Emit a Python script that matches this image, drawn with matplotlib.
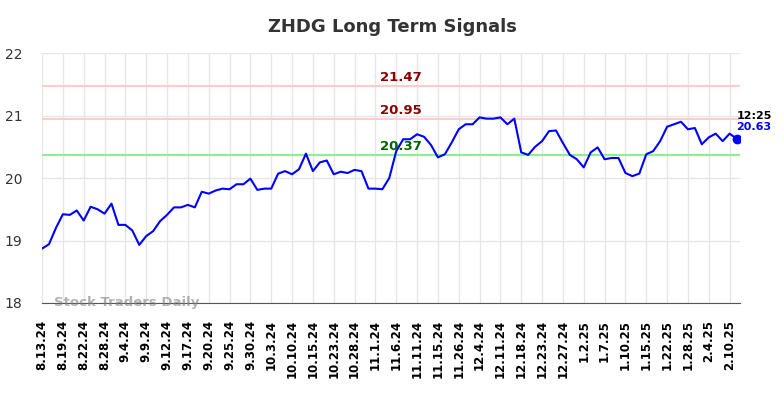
import matplotlib
matplotlib.use('Agg')
import matplotlib.pyplot as plt

title = 'ZHDG Long Term Signals'
tick_labels = ['8.13.24', '8.19.24', '8.22.24', '8.28.24', '9.4.24', '9.9.24', '9.12.24', '9.17.24',
               '9.20.24', '9.25.24', '9.30.24', '10.3.24', '10.10.24', '10.15.24', '10.23.24', '10.28.24',
               '11.1.24', '11.6.24', '11.11.24', '11.15.24', '11.26.24', '12.4.24', '12.11.24', '12.18.24',
               '12.23.24', '12.27.24', '1.2.25', '1.7.25', '1.10.25', '1.15.25', '1.22.25', '1.28.25',
               '2.4.25', '2.10.25']
prices = [18.87, 18.94, 19.20, 19.42, 19.41, 19.48, 19.32, 19.54, 19.50, 19.43,
          19.59, 19.25, 19.25, 19.16, 18.93, 19.07, 19.15, 19.31, 19.41, 19.53,
          19.53, 19.57, 19.53, 19.78, 19.75, 19.80, 19.83, 19.82, 19.90, 19.90,
          19.99, 19.81, 19.83, 19.83, 20.07, 20.11, 20.06, 20.14, 20.39, 20.11,
          20.25, 20.28, 20.06, 20.10, 20.08, 20.13, 20.11, 19.83, 19.83, 19.82,
          20.00, 20.43, 20.62, 20.62, 20.70, 20.66, 20.53, 20.33, 20.38, 20.57,
          20.78, 20.86, 20.86, 20.97, 20.95, 20.95, 20.97, 20.86, 20.95, 20.41,
          20.37, 20.50, 20.59, 20.75, 20.76, 20.56, 20.37, 20.30, 20.17, 20.41,
          20.49, 20.30, 20.32, 20.32, 20.08, 20.03, 20.07, 20.38, 20.43, 20.59,
          20.82, 20.86, 20.90, 20.78, 20.80, 20.54, 20.65, 20.71, 20.59, 20.71,
          20.63]
upper_levels = [21.47, 20.95]
lower_level = 20.37
last_time = '12:25'

fig = plt.figure(figsize=(7.84, 3.98), dpi=100)
ax = fig.add_axes([0.0536, 0.2387, 0.8903, 0.6281])

x = list(range(len(prices)))
ax.plot(x, prices, color='blue', lw=1.5, zorder=3)
ax.plot(x[-1], prices[-1], 'o', color='blue', ms=6, zorder=4)

# signal levels
for lvl in upper_levels:
    ax.axhline(lvl, color='#ffcccc', lw=1.5, zorder=2)
    ax.text(48.7, lvl + 0.03, f'{lvl:.2f}', color='#8b0000', fontsize=9.5,
            fontweight='bold', ha='left', va='bottom')
ax.axhline(lower_level, color='#90ee90', lw=1.5, zorder=2)
ax.text(48.7, lower_level + 0.03, f'{lower_level:.2f}', color='#006400', fontsize=9.5,
        fontweight='bold', ha='left', va='bottom')

ax.text(x[-1], prices[-1] + 0.28, last_time, color='black', fontsize=8,
        fontweight='bold', ha='left', va='bottom')
ax.text(x[-1], prices[-1] + 0.1, f'{prices[-1]:.2f}', color='blue', fontsize=8,
        fontweight='bold', ha='left', va='bottom')

ax.text(1.7, 18.0, 'Stock Traders Daily', color='gray', alpha=0.6, fontsize=9.5,
        fontweight='bold', ha='left', va='center')

ax.set_xlim(0, 100.5)
ax.set_ylim(18, 22)
ax.set_yticks([18, 19, 20, 21, 22])
ax.set_xticks(x[::3][:len(tick_labels)])
ax.set_xticklabels(tick_labels, rotation=90, fontsize=8.5, fontweight='bold')
ax.tick_params(axis='y', labelsize=10, colors='#333333', length=0, pad=14)
ax.tick_params(axis='x', length=0, pad=12)
ax.grid(True, color='#e6e6e6', lw=1)
ax.set_axisbelow(True)
for s in ['top', 'right', 'left']:
    ax.spines[s].set_visible(False)
ax.spines['bottom'].set_color('#555555')

fig.suptitle(title, fontsize=13, fontweight='bold', color='#333333', y=0.955)
fig.savefig('out.png', dpi=100)
